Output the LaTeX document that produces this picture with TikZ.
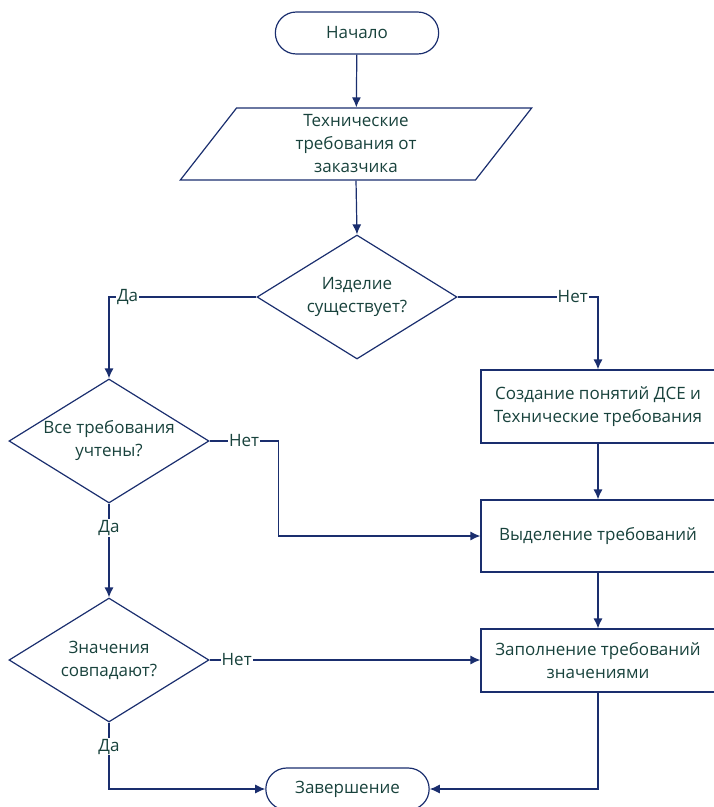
\documentclass[tikz,border=0pt]{standalone}
\usepackage{fontspec}
\setmainfont{Open Sans}
\usepackage{tikz}
\usetikzlibrary{shapes.geometric,shapes.misc,arrows.meta}

\definecolor{linie}{RGB}{26,46,110}
\definecolor{schrift}{RGB}{24,66,60}

\begin{document}
\begin{tikzpicture}[x=1pt,y=-1pt,
		box/.style={draw=linie, line width=1.2pt, text=schrift, align=center, font=\fontsize{17}{23}\selectfont},
		term/.style={box, rounded rectangle, minimum width=170pt, minimum height=42pt},
		daten/.style={box, trapezium, trapezium left angle=64, trapezium right angle=116, trapezium stretches=true, minimum width=352pt, minimum height=72pt, inner sep=0pt},
		frage/.style={box, diamond, aspect=1.6, minimum width=200pt, minimum height=124pt, inner sep=0pt},
		block/.style={box, rectangle, minimum width=234pt},
		lbl/.style={fill=white, text=schrift, inner sep=1pt, font=\fontsize{17}{20}\selectfont},
		fluss/.style={draw=linie, line width=1.2pt, -{Latex[length=10pt,width=9pt]}}]
		\useasboundingbox (0,0) rectangle (714,807);

		\node[term] (start) at (357,33) {Начало};
		\node[daten] (tz) at (356,144) {Технические\\требования от\\заказчика};
		\node[frage] (gibt) at (357,297) {Изделие\\существует?};
		\node[frage] (alle) at (109,441) {Все требования\\учтены?};
		\node[frage] (werte) at (109,660) {Значения\\совпадают?};
		\node[block, minimum height=73pt] (neu) at (598,406.5) {Создание понятий ДСЕ и\\Технические требования};
		\node[block, minimum height=72pt] (auswahl) at (598,536) {Выделение требований};
		\node[block, minimum height=63pt] (fuellen) at (598,660.5) {Заполнение требований\\значениями};
		\node[term] (ende) at (347.5,789) {Завершение};

		\draw [fluss] (start) -- (tz);
		\draw [fluss] (tz.south) -- (gibt.north);
		\draw [fluss] (gibt.west) -| node[lbl, pos=0.437]{Да} (alle.north);
		\draw [fluss] (gibt.east) -| node[lbl, pos=0.41]{Нет} (neu.north);
		\draw [fluss] (alle.east) -- node[lbl]{Нет} ++(69,0) |- (auswahl.west);
		\draw [fluss] (alle.south) -- node[lbl, pos=0.26]{Да} (werte.north);
		\draw [fluss] (neu) -- (auswahl);
		\draw [fluss] (auswahl) -- (fuellen);
		\draw [fluss] (werte.east) -- node[lbl, pos=0.1]{Нет} (werte.east -| fuellen.west);
		\draw [fluss] (werte.south) |- node[lbl, pos=0.18]{Да} (ende.west);
		\draw [fluss] (fuellen.south) |- (ende.east);
\end{tikzpicture}
\end{document}
